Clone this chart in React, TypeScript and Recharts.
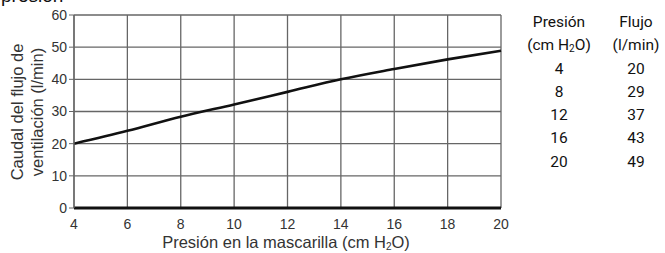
import { LineChart, Line, XAxis, YAxis, CartesianGrid, ReferenceLine } from "recharts";

const presionTicks = [4, 6, 8, 10, 12, 14, 16, 18, 20];
const flujoTicks = [0, 10, 20, 30, 40, 50, 60];

// curve
const curvaPresion = [4, 6, 8, 10, 12, 14, 16, 18, 20];
const curvaFlujo = [20, 24, 28.4, 32.2, 36.1, 40, 43.2, 46.2, 48.9];

// table on the right
const tablaPresion = ["4", "8", "12", "16", "20"];
const tablaFlujo = ["20", "29", "37", "43", "49"];

const data = curvaPresion.map((p, i) => ({ p, f: curvaFlujo[i] }));

const SANS = "'Liberation Sans', Arial, sans-serif";
const NARROW = "'Liberation Sans Narrow', 'Roboto', sans-serif";

export default function App() {
  return (
    <div style={{ position: "fixed", left: 0, top: 0, width: 665, height: 253, background: "#fff", overflow: "hidden" }}>
      <div style={{ position: "absolute", left: 1, top: -15, fontFamily: SANS, fontSize: 19, lineHeight: "22px", color: "#111" }}>presión</div>

      <LineChart width={665} height={253} data={data} margin={{ top: 15, right: 164, bottom: 15, left: 14 }}>
        <CartesianGrid stroke="#666" strokeWidth={1.3} horizontalValues={flujoTicks} verticalValues={presionTicks} />
        <XAxis
          dataKey="p"
          type="number"
          domain={[4, 20]}
          ticks={presionTicks}
          axisLine={false}
          tickLine={false}
          height={30}
          tickMargin={5}
          tick={{ fontSize: 14, fill: "#333", fontFamily: SANS }}
        />
        <YAxis
          type="number"
          domain={[0, 60]}
          ticks={flujoTicks}
          width={60}
          axisLine={{ stroke: "#666", strokeWidth: 1.3 }}
          tickLine={{ stroke: "#666" }}
          tickSize={5}
          tickMargin={2}
          tick={{ fontSize: 14, fill: "#333", fontFamily: SANS }}
        />
        <ReferenceLine y={0} stroke="#111" strokeWidth={3} />
        <Line dataKey="f" type="monotone" stroke="#111" strokeWidth={2.6} dot={false} isAnimationActive={false} />
      </LineChart>

      {/* y axis title */}
      <div
        style={{
          position: "absolute",
          left: 27,
          top: 112,
          transform: "translate(-50%, -50%) rotate(-90deg)",
          fontFamily: SANS,
          fontSize: 16.5,
          lineHeight: "20px",
          color: "#333",
          textAlign: "center",
          whiteSpace: "nowrap",
        }}
      >
        Caudal del flujo de
        <br />
        ventilación (l/min)
      </div>

      {/* x axis title */}
      <div
        style={{
          position: "absolute",
          left: 286,
          top: 233,
          transform: "translateX(-50%)",
          fontFamily: SANS,
          fontSize: 16.5,
          lineHeight: "19px",
          color: "#333",
          whiteSpace: "nowrap",
        }}
      >
        Presión en la mascarilla (cm H<sub style={{ fontSize: 10, verticalAlign: "-2px", lineHeight: 0 }}>2</sub>O)
      </div>

      {/* table */}
      <div style={{ position: "absolute", left: 521, top: 11, fontFamily: NARROW, fontSize: 15.5, color: "#111", lineHeight: "23.3px" }}>
        <div style={{ display: "flex" }}>
          <div style={{ width: 76, textAlign: "center" }}>
            Presión
            <br />
            (cm H<sub style={{ fontSize: 10, verticalAlign: "-2px", lineHeight: 0 }}>2</sub>O)
            {tablaPresion.map((v) => (
              <div key={v}>{v}</div>
            ))}
          </div>
          <div style={{ width: 56, textAlign: "center", marginLeft: 11 }}>
            Flujo
            <br />
            (l/min)
            {tablaFlujo.map((v) => (
              <div key={v}>{v}</div>
            ))}
          </div>
        </div>
      </div>
    </div>
  );
}
